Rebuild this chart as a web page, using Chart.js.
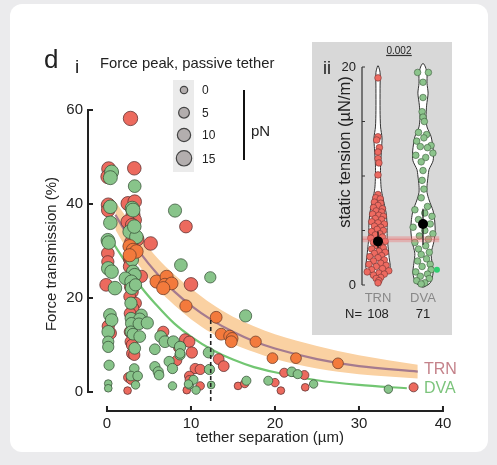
<!DOCTYPE html>
<html>
<head>
<meta charset="utf-8">
<script src="https://cdn.jsdelivr.net/npm/chart.js@4.4.1/dist/chart.umd.min.js"></script>
<style>
body{margin:0;background:#ebebed;width:497px;height:465px;overflow:hidden;position:relative;font-family:"Liberation Sans",Arial,sans-serif}
.card{position:absolute;left:10px;top:4px;width:478px;height:448px;background:#fff;border-radius:12px}
#main{position:absolute;left:0;top:0}
.insetBox{position:absolute;left:312px;top:42px;width:140px;height:293px;background:#d8d8d8}
#inset{position:absolute;left:0;top:0}
</style>
</head>
<body>
<div class="card"></div>
<canvas id="main" width="497" height="465"></canvas>
<div class="insetBox"><canvas id="inset" width="140" height="293"></canvas></div>
<script>
// ---- panel i : [tether separation (um), force transmission (%), force peak (pN)]
const trnPoints = [
  [2.8,58.2,14],[0.2,47.5,13],[0.1,45.8,13],[3.25,47.6,12],[9.4,35.2,10],[0.15,39.8,13],[0.15,38.7,12],
  [2.5,40.1,13],[3.1,37.7,13],[3.3,36.6,12],[2.5,36.2,13],[3.0,35.5,12],[5.2,31.6,12],[0.1,29.5,10],
  [0.1,27.7,9],[-0.1,22.8,10],[2.7,28.4,10],[2.8,27.8,10],[2.7,26.7,10],[2.7,24.5,9],[2.8,22.4,9],
  [3.0,21.3,9],[2.7,20.3,8],[3.4,18.9,8],[3.1,17.8,8],[4.1,24.6,9],[10.0,22.9,12],[0.15,14.0,9],
  [0.4,12.5,9],[2.75,16.7,8],[2.75,12.8,8],[2.85,10.7,8],[3.0,10.0,8],[3.0,8.2,7],[3.25,7.9,7],
  [2.55,3.1,4],[3.3,2.9,4],[2.85,2.6,3],[2.45,0.3,1],[6.7,12.8,7],[9.3,11.2,7],[9.8,10.7,7],
  [10.1,8.4,7],[8.3,6.7,5],[8.5,9.4,4],[13.3,7.0,6],[13.9,5.5,6],[10.5,5.0,5],[11.1,4.8,5],
  [9.8,3.4,4],[9.8,2.6,2],[9.5,0.4,1],[11.1,1.3,2],[15.6,1.3,1],[16.4,1.8,2],[20.0,2.0,2],
  [20.7,0.3,1],[23.6,1.0,1],[21.1,4.1,3],[23.5,3.6,3],[36.5,1.0,3],[3.6,32.5,12],[2.9,31.8,12],[3.3,40.5,12]
];
const dvaPoints = [
  [0.55,46.8,13],[0.4,45.6,13],[3.3,43.8,10],[0.4,39.4,12],[3.0,39.1,13],[8.1,38.6,11],[0.4,36.0,12],
  [2.7,34.1,12],[3.5,33.0,12],[3.25,35.2,12],[3.1,38.7,13],[0.1,32.3,12],[0.2,31.8,12],[8.8,27.0,10],
  [0.15,26.3,12],[0.55,25.6,12],[0.95,22.1,12],[3.0,28.1,10],[3.1,25.6,11],[3.3,24.9,11],[2.2,24.2,10],
  [2.9,23.5,11],[2.95,22.1,10],[3.4,22.8,9],[12.3,24.4,7],[16.5,16.2,9],[0.35,16.4,10],[0.55,15.3,10],
  [0.15,12.8,10],[0.15,10.7,7],[0.15,9.6,7],[0.25,5.7,5],[0.15,1.8,1],[0.15,0.8,1],[2.85,18.9,9],
  [4.1,16.4,8],[2.85,15.7,8],[3.9,15.5,9],[2.9,14.6,8],[3.8,14.5,8],[4.8,14.7,9],[2.85,12.8,8],
  [3.1,12.3,8],[3.9,11.8,8],[3.3,9.3,8],[3.25,5.0,4],[2.85,3.4,4],[3.65,3.4,4],[3.4,1.5,2],
  [6.4,11.8,8],[6.9,10.7,8],[7.9,10.7,8],[5.7,9.1,6],[8.7,9.6,7],[8.7,7.9,5],[7.4,6.5,5],[7.8,5.0,5],
  [5.7,5.4,5],[6.1,4.3,5],[6.2,3.6,4],[7.8,1.3,2],[9.8,1.5,2],[12.1,8.4,6],[12.2,4.8,5],[10.3,2.6,3],
  [9.7,1.7,2],[10.6,0.4,2],[12.4,1.5,1],[16.6,2.4,3],[19.2,2.4,3],[24.6,1.7,2],[22.0,4.3,4],
  [22.7,3.8,3],[33.5,0.6,2],[8.7,8.2,4]
];
const fitPoints = [
  [2.7,31.0,12],[3.1,30.2,12],[3.5,29.9,12],[2.7,29.1,11],[5.9,23.5,11],[7.1,24.5,11],[6.9,22.8,11],
  [7.7,23.1,10],[6.7,22.1,11],[9.4,18.3,9],[13.0,15.9,8],[13.6,12.3,8],[14.6,11.9,8],[14.9,11.4,8],
  [14.8,10.7,8],[17.7,10.7,7],[19.7,7.2,6],[22.5,7.2,6],[27.5,6.1,6]
];

// fitted curves
const curveX    = [1, 2, 4, 6, 8, 10, 12.5, 15, 17.5, 20, 25, 30, 37];
const trnCurve  = [37.7, 34.7, 29.5, 25.1, 21.4, 18.4, 15.3, 12.8, 10.8, 9.25, 7.0, 5.5, 4.35];
const trnUpper  = [40.5, 38.0, 33.0, 28.5, 25.0, 22.0, 18.7, 16.0, 14.0, 12.3, 9.8, 7.8, 5.8];
const trnLower  = [34.5, 31.5, 26.5, 22.0, 18.5, 15.5, 12.5, 10.2, 8.5, 7.0, 5.0, 3.8, 2.9];
const dvaCurveX = [0.8, 2, 4, 6, 8, 10, 12.5, 15, 17.5, 20, 25, 30, 35.7];
const dvaCurve  = [31.5, 28.2, 22.5, 18.3, 14.6, 11.8, 9.0, 6.9, 5.3, 4.2, 2.5, 1.5, 0.8];
const cutoff = 12.35;

const xTicks = [0, 10, 20, 30, 40];
const yTicks = [0, 20, 40, 60];
const sizeLegend = [0, 5, 10, 15];

// ---- panel ii : static tension (uN/m)
const groups = ['TRN', 'DVA'];
const groupN = [108, 71];
const trnTension = [19.0,13.6,13.3,12.6,12.2,11.6,11.2,10.1,8.3,8.0,7.9,7.6,7.5,7.3,7.1,7.0,6.8,6.7,6.5,6.4,6.3,6.1,6.0,
  5.8,5.7,5.6,5.4,5.3,5.1,5.0,4.9,4.7,4.6,4.4,4.3,4.1,4.0,3.9,3.7,3.6,3.4,3.3,3.1,3.0,2.9,2.7,2.6,2.5,2.3,2.2,
  2.0,1.9,1.8,1.7,1.5,1.4,1.3,1.2,1.1,1.0,0.9,0.7,0.6,0.4,0.2];
const trnJitter = [0,0,-0.03,0.03,0,0,0.02,0,0,-0.05,0.05,-0.08,0.06,0,-0.1,0.1,-0.04,0.08,-0.12,0.02,0.12,-0.06,0.08,
  -0.14,0,0.14,-0.08,0.06,-0.02,0.12,-0.14,0.04,-0.06,0.1,-0.16,0,0.16,-0.1,0.06,-0.02,0.12,-0.14,0.02,0.16,-0.08,0.08,-0.18,0,0.14,-0.1,
  0.06,-0.2,0.18,-0.04,0.1,-0.14,0.24,-0.24,0.02,0.14,-0.1,0.06,-0.04,0.02,0];
const dvaTension = [19.5,19.5,18.6,17.2,15.9,15.4,15.0,14.0,13.8,13.5,13.2,12.8,12.7,12.6,12.1,11.9,11.7,11.3,10.5,9.6,8.8,
  8.0,7.2,6.9,6.6,6.3,6.0,5.6,5.3,5.0,4.7,4.5,4.2,3.9,3.6,3.3,3.0,2.8,2.4,2.2,1.9,1.7,1.4,1.2,1.0,0.8,0.6,0.4,0.2,0.1];
const dvaJitter = [-0.12,0.12,0,0,-0.02,0,0.03,-0.1,0.08,0.02,-0.14,0.18,-0.06,0.1,0.22,-0.16,0.06,-0.04,0,-0.02,0.02,
  -0.04,0.1,-0.18,0.04,0.2,-0.1,0.16,-0.22,0.04,0.22,-0.08,0.12,-0.18,0.06,-0.1,0.14,-0.04,0.08,-0.12,0.16,-0.02,0.18,-0.16,0.1,-0.06,0.14,-0.14,0.04,-0.04];
const groupMean = [4.0, 5.6];
const groupLow  = [3.4, 3.7];
const groupHigh = [4.9, 7.0];
const outlier = {x: 2.31, y: 1.4};
const refLevel = 4.2;
const pValue = '0.002';

const trnViolinY = [-0.1,0.4,1.0,1.6,2.5,3.5,4.5,5.5,6.6,7.5,8.4,9.0,10.0,11.0,12.5,13.5,14.5,16,18,19.5,20.1];
const trnViolinD = [0.02,0.25,0.67,1.0,0.92,0.83,0.75,0.75,0.67,0.5,0.33,0.25,0.21,0.21,0.29,0.33,0.21,0.17,0.17,0.17,0.03];
const dvaViolinY = [-0.2,0.2,1.1,2.0,2.9,4.0,5.0,6.0,6.8,7.8,8.5,9.1,10.0,10.6,11.4,12.3,13.6,14.5,15.4,16.5,17.6,18.5,19.4,20.0,20.3];
const dvaViolinD = [0.05,0.6,0.83,0.75,0.67,0.9,1.0,0.95,0.83,0.5,0.33,0.33,0.42,0.5,0.83,0.85,0.67,0.33,0.25,0.3,0.42,0.33,0.33,0.2,0.05];

const FONT = '"Liberation Sans", Arial, sans-serif';
const rOf = f => Math.sqrt(12 + 2.85 * f);
const bub = pts => pts.map(p => ({x: p[0], y: p[1], r: rOf(p[2])}));
const xy = (xs, ys) => xs.map((v, i) => ({x: v, y: ys[i]}));

const mainDecor = {
  id: 'mainDecor',
  afterDraw(chart) {
    const {ctx, chartArea, scales: {x, y}} = chart;
    ctx.save();
    ctx.strokeStyle = '#222';
    ctx.fillStyle = '#222';
    ctx.lineWidth = 2;
    // y axis
    const ax = chartArea.left;
    ctx.beginPath();
    ctx.moveTo(ax, y.getPixelForValue(60));
    ctx.lineTo(ax, y.getPixelForValue(0));
    yTicks.forEach(v => { const p = y.getPixelForValue(v); ctx.moveTo(ax - 1, p); ctx.lineTo(ax + 5, p); });
    // x axis
    const ay = chartArea.bottom;
    ctx.moveTo(x.getPixelForValue(0), ay);
    ctx.lineTo(x.getPixelForValue(40), ay);
    xTicks.forEach(v => { const p = x.getPixelForValue(v); ctx.moveTo(p, ay + 1); ctx.lineTo(p, ay - 5); });
    ctx.stroke();

    ctx.font = '15px ' + FONT;
    ctx.textAlign = 'right'; ctx.textBaseline = 'middle';
    yTicks.forEach(v => ctx.fillText(String(v), ax - 5, y.getPixelForValue(v)));
    ctx.textAlign = 'center'; ctx.textBaseline = 'top';
    xTicks.forEach(v => ctx.fillText(String(v), x.getPixelForValue(v), ay + 5));

    ctx.font = '15px ' + FONT;
    ctx.textBaseline = 'middle';
    ctx.fillText('tether separation (\u00b5m)', 270, 438);
    ctx.save();
    ctx.translate(52, 254);
    ctx.rotate(-Math.PI / 2);
    ctx.fillText('Force transmission (%)', 0, 0);
    ctx.restore();

    // headings
    ctx.textAlign = 'left';
    ctx.font = '26px ' + FONT;
    ctx.fillText('d', 44, 61);
    ctx.font = '19px ' + FONT;
    ctx.fillText('i', 75, 68);
    ctx.font = '14.8px ' + FONT;
    ctx.fillText('Force peak, passive tether', 100, 64);

    // size legend
    ctx.fillStyle = '#ebebeb';
    ctx.fillRect(173, 80, 21, 92);
    const ly = [90, 112.7, 135, 158.3];
    ctx.lineWidth = 1.2;
    sizeLegend.forEach((f, i) => {
      ctx.beginPath();
      ctx.arc(184, ly[i], Math.sqrt(13.7 + 3.04 * f), 0, Math.PI * 2);
      ctx.fillStyle = '#b3aeae';
      ctx.fill();
      ctx.strokeStyle = '#444';
      ctx.stroke();
      ctx.fillStyle = '#222';
      ctx.font = '12px ' + FONT;
      ctx.fillText(String(f), 202, ly[i] + 1);
    });
    ctx.lineWidth = 2;
    ctx.strokeStyle = '#111';
    ctx.beginPath();
    ctx.moveTo(244, 90); ctx.lineTo(244, 160);
    ctx.stroke();
    ctx.font = '15px ' + FONT;
    ctx.fillText('pN', 251, 132);

    ctx.font = '16px ' + FONT;
    ctx.fillStyle = '#c4828a';
    ctx.fillText('TRN', 424, 370);
    ctx.fillStyle = '#7cc47c';
    ctx.fillText('DVA', 424, 389);
    ctx.restore();
  }
};

new Chart(document.getElementById('main'), {
  type: 'bubble',
  data: {
    datasets: [
      {type: 'line', data: xy(curveX, trnUpper), borderWidth: 0, pointRadius: 0, fill: '+1',
       backgroundColor: '#fad1a2', cubicInterpolationMode: 'monotone', order: 10},
      {type: 'line', data: xy(curveX, trnLower), borderWidth: 0, pointRadius: 0, fill: false,
       cubicInterpolationMode: 'monotone', order: 11},
      {type: 'line', data: xy(curveX, trnCurve), borderColor: '#a57b8f', borderWidth: 2.2, pointRadius: 0,
       fill: false, cubicInterpolationMode: 'monotone', order: 6},
      {type: 'line', data: xy(dvaCurveX, dvaCurve), borderColor: '#72c672', borderWidth: 2.2, pointRadius: 0,
       fill: false, cubicInterpolationMode: 'monotone', order: 6},
      {label: 'TRN', data: bub(trnPoints), backgroundColor: '#ec6a5e', borderColor: 'rgba(90,45,45,0.75)', borderWidth: 1, order: 4},
      {label: 'DVA', data: bub(dvaPoints), backgroundColor: '#88c48a', borderColor: 'rgba(55,80,55,0.75)', borderWidth: 1, order: 3},
      {label: 'TRN fit', data: bub(fitPoints), backgroundColor: '#f37a3c', borderColor: 'rgba(110,60,40,0.75)', borderWidth: 1, order: 2},
      {type: 'line', data: [{x: cutoff, y: 15.3}, {x: cutoff, y: -2.1}], borderColor: '#222', borderWidth: 1.6,
       borderDash: [4, 3], pointRadius: 0, fill: false, order: 0}
    ]
  },
  options: {
    responsive: false,
    animation: false,
    events: [],
    clip: false,
    layout: {padding: {left: 88, right: 50, top: 105, bottom: 54}},
    scales: {
      x: {type: 'linear', min: -2.26, max: 40.48, display: false},
      y: {type: 'linear', min: -4.04, max: 61.06, display: false}
    },
    plugins: {legend: {display: false}, tooltip: {enabled: false}}
  },
  plugins: [mainDecor]
});

// ---- inset
const violinHalf = 0.27;
function violinShape(center, ys, ds) {
  const left = ys.map((v, i) => ({x: center - ds[i] * violinHalf, y: v}));
  const right = ys.map((v, i) => ({x: center + ds[i] * violinHalf, y: v})).reverse();
  return left.concat(right, [left[0]]);
}

const insetDecor = {
  id: 'insetDecor',
  beforeDatasetsDraw(chart) {
    const ctx = chart.ctx;
    ctx.save();
    ctx.fillStyle = '#fff';
    [0, 1].forEach(i => {
      const pts = chart.getDatasetMeta(i).data;
      ctx.beginPath();
      pts.forEach((p, k) => k ? ctx.lineTo(p.x, p.y) : ctx.moveTo(p.x, p.y));
      ctx.closePath();
      ctx.fill();
    });
    ctx.restore();
  },
  afterDraw(chart) {
    const {ctx, chartArea, scales: {x, y}} = chart;
    ctx.save();
    ctx.strokeStyle = '#333';
    ctx.fillStyle = '#222';
    ctx.lineWidth = 1.2;
    const ax = chartArea.left;
    ctx.beginPath();
    ctx.moveTo(ax, y.getPixelForValue(20));
    ctx.lineTo(ax, y.getPixelForValue(0));
    [0, 5, 10, 15, 20].forEach(v => { const p = y.getPixelForValue(v); ctx.moveTo(ax, p); ctx.lineTo(ax + 3, p); });
    ctx.stroke();
    ctx.font = '13px ' + FONT;
    ctx.textAlign = 'right'; ctx.textBaseline = 'middle';
    [0, 20].forEach(v => ctx.fillText(String(v), ax - 6, y.getPixelForValue(v)));
    ctx.save();
    ctx.translate(33, 110);
    ctx.rotate(-Math.PI / 2);
    ctx.textAlign = 'center';
    ctx.font = '16.5px ' + FONT;
    ctx.fillText('static tension (\u00b5N/m)', 0, 0);
    ctx.restore();

    ctx.textAlign = 'center';
    ctx.font = '18px ' + FONT;
    ctx.fillText('ii', 15, 27);
    ctx.font = '13px ' + FONT;
    ctx.fillStyle = '#888';
    groups.forEach((g, i) => ctx.fillText(g, x.getPixelForValue(i + 1), 256));
    ctx.fillStyle = '#222';
    groupN.forEach((n, i) => ctx.fillText(String(n), x.getPixelForValue(i + 1), 272));
    ctx.textAlign = 'right';
    ctx.fillText('N=', 50, 272);
    // p value bracket
    ctx.textAlign = 'center';
    ctx.font = '10px ' + FONT;
    const x1 = x.getPixelForValue(1.18), x2 = x.getPixelForValue(1.75);
    ctx.fillText(pValue, (x1 + x2) / 2, 9);
    ctx.lineWidth = 1.2;
    ctx.beginPath();
    ctx.moveTo(x1, 13.5); ctx.lineTo(x2, 13.5);
    ctx.stroke();
    ctx.restore();
  }
};

const xLo = 0.644, xHi = 2.36;
new Chart(document.getElementById('inset'), {
  type: 'scatter',
  data: {
    datasets: [
      {data: violinShape(1, trnViolinY, trnViolinD), showLine: true, borderColor: '#333', borderWidth: 1,
       pointRadius: 0, tension: 0.25, fill: false, order: 9},
      {data: violinShape(2, dvaViolinY, dvaViolinD), showLine: true, borderColor: '#333', borderWidth: 1,
       pointRadius: 0, tension: 0.25, fill: false, order: 9},
      {data: trnTension.map((v, i) => ({x: 1 + trnJitter[i], y: v})), pointRadius: 3.3,
       backgroundColor: '#ee6a60', borderColor: 'rgba(110,50,50,0.75)', borderWidth: 0.8, order: 5},
      {data: dvaTension.map((v, i) => ({x: 2 + dvaJitter[i], y: v})), pointRadius: 3.3,
       backgroundColor: '#8cc48c', borderColor: 'rgba(60,90,60,0.75)', borderWidth: 0.8, order: 5},
      {data: [{x: xLo, y: refLevel}, {x: xHi, y: refLevel}], showLine: true, borderColor: 'rgba(238,120,120,0.4)',
       borderWidth: 6, pointRadius: 0, order: 3},
      {data: [{x: xLo, y: refLevel}, {x: xHi, y: refLevel}], showLine: true, borderColor: 'rgba(225,90,90,0.6)',
       borderWidth: 1, pointRadius: 0, order: 3},
      {data: [{x: 1, y: groupLow[0]}, {x: 1, y: groupHigh[0]}], showLine: true, borderColor: '#111', borderWidth: 1.2, pointRadius: 0, order: 2},
      {data: [{x: 2, y: groupLow[1]}, {x: 2, y: groupHigh[1]}], showLine: true, borderColor: '#111', borderWidth: 1.2, pointRadius: 0, order: 2},
      {data: groupMean.map((v, i) => ({x: i + 1, y: v})), pointRadius: 5, backgroundColor: '#000', borderWidth: 0, order: 1},
      {data: [outlier], pointRadius: 3, backgroundColor: '#2fcf70', borderWidth: 0, order: 1}
    ]
  },
  options: {
    responsive: false,
    animation: false,
    events: [],
    clip: false,
    layout: {padding: {left: 50, right: 8, top: 20, bottom: 43}},
    scales: {
      x: {type: 'linear', min: 0.6444, max: 2.4667, display: false},
      y: {type: 'linear', min: -0.642, max: 20.459, display: false}
    },
    plugins: {legend: {display: false}, tooltip: {enabled: false}}
  },
  plugins: [insetDecor]
});
</script>
</body>
</html>
